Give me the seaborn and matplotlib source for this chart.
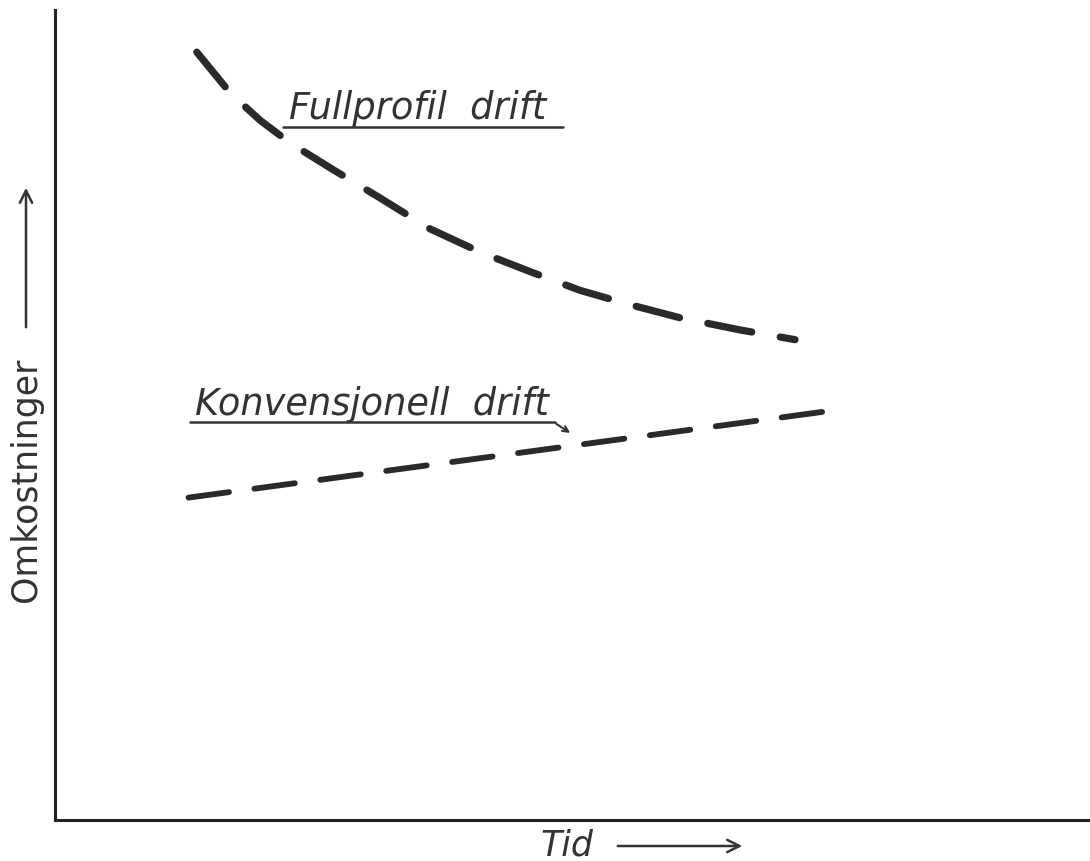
import seaborn as sns
import matplotlib.pyplot as plt
import pandas as pd

sns.set_style('white')
plt.rcParams['font.family'] = ['DejaVu Sans']

# Fullprofil drift (fallende kurve)
full_x = [13.7, 16.9, 19.8, 22.7, 26.6, 31.4, 36.2, 41.1, 45.9, 50.7,
          55.6, 60.4, 66.2, 71.5]
full_y = [94.8, 89.8, 86.4, 83.6, 80.5, 76.8, 73.0, 70.1, 67.7, 65.4,
          63.6, 62.0, 60.5, 59.3]
# Konvensjonell drift (svakt stigende)
konv_x = [12.9, 75.4]
konv_y = [39.8, 50.6]

full = pd.DataFrame({'tid': full_x, 'kost': full_y})
konv = pd.DataFrame({'tid': konv_x, 'kost': konv_y})

ink = '#2a2a2a'
txt = '#333333'

fig = plt.figure(figsize=(10.9, 8.61), dpi=100)
ax = fig.add_axes([55 / 1090, 41 / 861, 1 - 55 / 1090, 810 / 861])

sns.lineplot(data=full, x='tid', y='kost', color=ink, linewidth=5.2, ax=ax)
ln = ax.lines[-1]
ln.set_dashes([6.2, 4.0])
ln.set_dash_capstyle('round')
sns.lineplot(data=konv, x='tid', y='kost', color=ink, linewidth=4.2, ax=ax)
ln = ax.lines[-1]
ln.set_dashes([7, 4.4])
ln.set_dash_capstyle('round')

ax.set_xlim(0, 100)
ax.set_ylim(0, 100)
ax.set_xticks([])
ax.set_yticks([])
ax.set_xlabel('')
ax.set_ylabel('')
sns.despine(ax=ax)
for s in ['left', 'bottom']:
    ax.spines[s].set_linewidth(2.2)
    ax.spines[s].set_color('#222222')

# etiketter med understrek
ax.text(22.6, 86.5, 'Fullprofil  drift', fontsize=26.5, style='italic',
        color=txt, va='baseline')
ax.plot([22.0, 49.1], [85.6, 85.6], color=txt, lw=1.8)
ax.text(13.5, 50.0, 'Konvensjonell  drift', fontsize=26.5, style='italic',
        color=txt, va='baseline')
ax.plot([13.0, 48.3], [49.1, 49.1], color=txt, lw=1.8)
ax.annotate('', xy=(50.0, 47.6), xytext=(48.2, 49.1),
            arrowprops=dict(arrowstyle='->', color=txt, lw=1.5))

# aksetitler med piler
fig.text(540 / 1090, 1 - 846 / 861, 'Tid', fontsize=25, style='italic',
         color=txt, ha='left', va='center')
fig.text(26 / 1090, 1 - 480 / 861, 'Omkostninger', fontsize=25, color=txt,
         rotation=90, ha='center', va='center')
ax.annotate('', xy=(745 / 1090, 1 - 846 / 861), xytext=(615 / 1090, 1 - 846 / 861),
            xycoords='figure fraction', textcoords='figure fraction',
            arrowprops=dict(arrowstyle='->', color=txt, lw=1.8,
                            mutation_scale=22), annotation_clip=False)
ax.annotate('', xy=(26 / 1090, 1 - 185 / 861), xytext=(26 / 1090, 1 - 330 / 861),
            xycoords='figure fraction', textcoords='figure fraction',
            arrowprops=dict(arrowstyle='->', color=txt, lw=1.8,
                            mutation_scale=22), annotation_clip=False)

fig.savefig('out.png', dpi=100)
